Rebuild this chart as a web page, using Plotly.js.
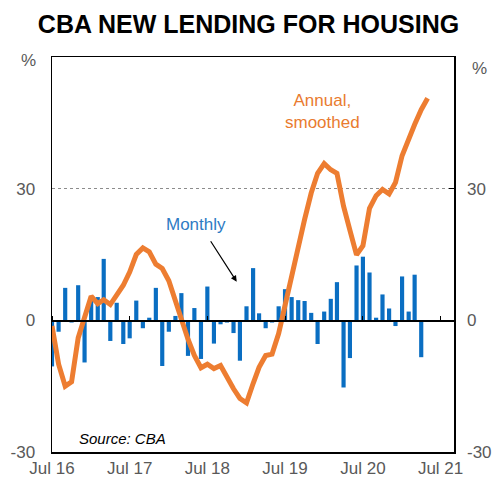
<!DOCTYPE html>
<html>
<head>
<meta charset="utf-8">
<script src="https://cdn.plot.ly/plotly-3.0.1.min.js"></script>
<style>
  html, body { margin: 0; padding: 0; background: #fff; }
  #chart { width: 497px; height: 482px; }
</style>
</head>
<body>
<div id="chart"></div>
<script>
// Months, Jul 2016 to May 2021
var months = [
  "2016-07", "2016-08", "2016-09", "2016-10", "2016-11", "2016-12",
  "2017-01", "2017-02", "2017-03", "2017-04", "2017-05", "2017-06",
  "2017-07", "2017-08", "2017-09", "2017-10", "2017-11", "2017-12",
  "2018-01", "2018-02", "2018-03", "2018-04", "2018-05", "2018-06",
  "2018-07", "2018-08", "2018-09", "2018-10", "2018-11", "2018-12",
  "2019-01", "2019-02", "2019-03", "2019-04", "2019-05", "2019-06",
  "2019-07", "2019-08", "2019-09", "2019-10", "2019-11", "2019-12",
  "2020-01", "2020-02", "2020-03", "2020-04", "2020-05", "2020-06",
  "2020-07", "2020-08", "2020-09", "2020-10", "2020-11", "2020-12",
  "2021-01", "2021-02", "2021-03", "2021-04", "2021-05"
];

// Monthly growth (bars), Jul 2016 - Apr 2021
var monthly = [
  -10.5, -2.6, 7.4, -0.5, 8, -9.6,
  5.3, 5.3, 14, -4.7, 4, -5.4,
  -4.1, 4.5, -1.8, 0.6, 7.4, -10.4,
  -2.6, 1, 6.2, -8.1, 2.8, -8.8,
  7.7, -5.3, -0.9, -0.5, -2.9, -9.2,
  3.2, 11.9, 1.6, -1.8, -0.5, 3.2,
  7.1, 5.3, 4.6, 4.4, 1.7, -5.4,
  2, 4.9, 8.7, -15.3, -8.6, 12.5,
  14.5, 10.9, 0.6, 5.9, 2.7, -1.3,
  10, 2, 10.4, -8.4
];

// Annual growth, smoothed (line), Jul 2016 - May 2021
var annual = [
  -1.3, -10, -15, -14, -4, 1,
  5.5, 3.8, 4.7, 3.6, 6, 8,
  11, 15, 16.5, 15.6, 12.8, 11.8,
  9, 4.4, 0, -4.3, -8, -10.8,
  -10, -11, -10.3, -13, -15.6, -17.8,
  -18.8, -14.4, -10.7, -8, -7.7, -3,
  3.6, 10, 16, 23, 29, 33.5,
  35.7, 34.3, 33.5, 26, 20.5, 14.9,
  17, 25.5, 28.4, 29.8, 28.8, 31.4,
  37.5, 41.6, 44.6, 48, 50.6
];

var yearTicks = ["2016-07-01", "2017-07-01", "2018-07-01", "2019-07-01", "2020-07-01", "2021-07-01"];
var yearLabels = ["Jul 16", "Jul 17", "Jul 18", "Jul 19", "Jul 20", "Jul 21"];
var yTicks = [-30, 0, 30];
var yLabels = ["-30", "0", "30"];

var font = "Arial, 'Liberation Sans', sans-serif";
var grey = "#595959";
var xRange = ["2016-07-01", "2021-09-02"];
var yRange = [-30, 60];

var bars = {
  x: months.slice(0, monthly.length),
  y: monthly,
  type: "bar",
  marker: { color: "#0A6EC2" },
  xaxis: "x",
  yaxis: "y"
};

var line = {
  x: months,
  y: annual,
  type: "scatter",
  mode: "lines",
  line: { color: "#ED7D31", width: 5 },
  xaxis: "x2",
  yaxis: "y2"
};

// small helper for text notes placed in paper coords
function note(x, y, text, size, color) {
  return { xref: "paper", yref: "paper", x: x, y: y, xanchor: "center", yanchor: "middle",
    text: text, showarrow: false, align: "center",
    font: { family: font, size: size, color: color } };
}

var sourceNote = note(0.063, 0.035, "<i>Source: CBA</i>", 15, "#000");
sourceNote.xanchor = "left";

var layout = {
  width: 497,
  height: 482,
  margin: { l: 52, r: 43, t: 57, b: 30 },
  paper_bgcolor: "#fff",
  plot_bgcolor: "#fff",
  showlegend: false,
  bargap: 0.3,
  title: {
    text: "<b>CBA NEW LENDING FOR HOUSING</b>",
    font: { family: font, size: 25, color: "#000" },
    x: 0.5, xanchor: "center",
    y: 1 - 24 / 482, yanchor: "middle"
  },
  xaxis: {
    type: "date",
    range: xRange,
    tickvals: yearTicks,
    ticktext: yearLabels,
    ticks: "",
    showgrid: false,
    zeroline: false,
    showline: true,
    mirror: true,
    linecolor: "#000",
    linewidth: 1.5,
    tickfont: { family: font, size: 17, color: grey }
  },
  xaxis2: {
    type: "date",
    overlaying: "x",
    anchor: "free",
    position: 1 / 3,
    side: "top",
    range: xRange,
    tickvals: yearTicks,
    ticks: "outside",
    ticklen: 4,
    tickwidth: 1,
    tickcolor: "#000",
    showticklabels: false,
    showgrid: false,
    zeroline: false,
    showline: true,
    linecolor: "#000",
    linewidth: 1.5
  },
  yaxis: {
    range: yRange,
    tickvals: yTicks,
    ticktext: yLabels,
    ticks: "",
    showgrid: true,
    gridcolor: "#8c8c8c",
    griddash: "dot",
    gridwidth: 1,
    zeroline: false,
    showline: true,
    mirror: true,
    linecolor: "#000",
    linewidth: 1.5,
    ticklabelstandoff: 12,
    tickfont: { family: font, size: 17, color: grey }
  },
  yaxis2: {
    range: yRange,
    overlaying: "y",
    anchor: "x2",
    side: "right",
    tickvals: yTicks,
    ticktext: yLabels,
    ticks: "inside",
    ticklen: 5,
    tickcolor: "#000",
    showgrid: false,
    zeroline: false,
    showline: false,
    ticklabelstandoff: 12,
    tickfont: { family: font, size: 17, color: grey }
  },
  annotations: [
    note(-0.058, 0.992, "%", 17, grey),
    note(1.064, 0.972, "%", 17, grey),
    note(0.357, 0.575, "Monthly", 17, "#2E7BC4"),
    { xref: "paper", yref: "paper", x: 0.4595, y: 0.431, text: "", showarrow: true,
      ax: -27, ay: -42, arrowhead: 2, arrowsize: 1, arrowwidth: 1.2, arrowcolor: "#000" },
    note(0.672, 0.863, "Annual,<br>smoothed", 17, "#E97B2F"),
    sourceNote
  ]
};

Plotly.newPlot("chart", [bars, line], layout, { displayModeBar: false, staticPlot: true });
</script>
</body>
</html>
